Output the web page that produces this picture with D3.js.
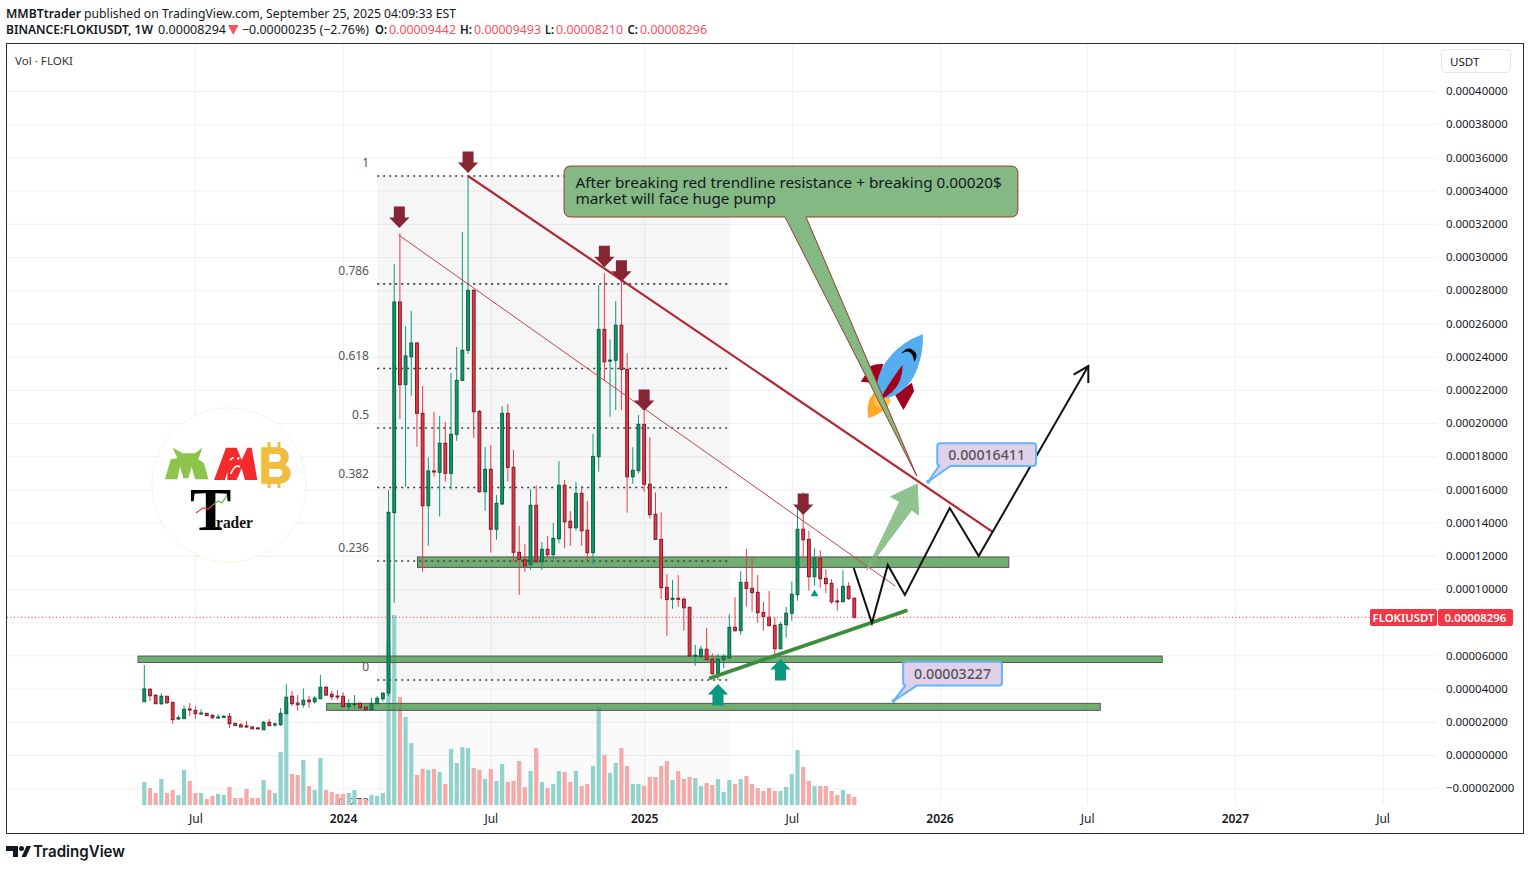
<!DOCTYPE html>
<html><head><meta charset="utf-8">
<style>
html,body{margin:0;padding:0;background:#fff}
svg{display:block}
svg text{font-family:"Noto Sans",sans-serif}
</style>
<script src="https://cdn.jsdelivr.net/npm/d3@7"></script>
</head><body>
<svg id="c" width="1530" height="870"></svg>
<script>
// prices are in units of 0.000001 USDT; one entry per weekly bar
const opens=[32.1,39.6,36.0,30.9,35.4,31.7,21.7,21.9,27.7,26.9,24.9,25.1,23.9,22.5,22.9,23.3,19.1,18.1,17.5,16.9,16.3,15.2,19.7,18.3,18.3,24.9,35.4,31.3,30.3,33.1,32.1,33.9,40.8,36.6,35.5,35.4,29.1,30.3,31.1,28.9,27.3,30.9,33.9,37.3,146.0,272.9,223.1,239.9,248.2,205.8,150.2,171.1,170.3,187.8,169.7,193.2,225.7,243.8,279.9,207.0,158.6,172.1,136.0,151.2,205.8,173.3,122.1,117.6,114.9,150.4,116.4,123.9,120.7,130.3,162.5,140.8,136.9,157.6,135.4,121.9,179.7,256.4,237.3,237.8,258.9,232.3,167.6,171.3,199.2,163.1,145.0,129.9,101.0,94.0,94.4,93.8,89.0,59.5,59.2,63.7,57.7,49.0,57.4,58.6,76.9,74.9,104.0,100.4,98.0,85.9,83.0,78.1,64.0,78.5,85.4,96.6,136.0,129.9,107.4,118.5,106.4,103.4,92.8,92.3,101.6,94.42];
const highs=[54.2,40.2,36.6,37.2,35.5,31.9,23.9,29.9,31.3,29.3,27.5,25.1,24.5,24.7,24.1,25.3,19.1,19.3,20.5,17.5,16.9,20.5,21.7,19.7,28.3,42.8,38.6,36.1,40.2,35.5,35.5,48.2,41.6,38.6,39.2,37.8,33.7,36.1,31.7,28.9,34.3,35.5,37.8,159.6,295.8,314.3,258.4,267.5,248.8,222.3,179.5,206.6,204.2,200.6,230.1,245.8,315.1,348.8,280.7,207.8,185.5,186.7,156.6,210.2,211.4,183.7,138.0,127.1,160.1,162.5,128.3,131.9,139.8,176.9,165.7,147.0,164.5,162.0,153.0,193.4,283.1,290.2,250.4,273.5,285.5,242.0,185.4,204.8,207.2,191.4,158.3,146.2,109.0,105.4,108.4,95.0,89.0,66.3,65.7,76.5,61.3,60.8,60.8,84.8,95.2,110.7,124.1,118.5,108.4,92.2,98.8,83.0,80.1,89.2,104.4,150.6,158.3,134.9,124.5,123.3,112.0,106.0,100.4,111.3,104.0,94.93];
const lows=[32.1,32.5,30.9,30.1,30.7,18.7,21.1,21.9,23.5,21.7,24.1,23.7,21.7,21.7,22.3,16.3,17.7,16.9,16.3,15.8,15.8,15.2,17.7,16.9,17.5,24.9,29.5,26.7,28.5,28.5,30.9,33.9,35.5,33.1,33.1,28.5,27.1,27.9,27.9,27.3,27.3,30.9,32.1,35.5,91.7,202.4,161.6,216.4,185.7,110.4,126.1,167.6,143.6,164.6,159.8,189.3,225.7,241.6,191.1,158.0,147.2,121.9,129.7,150.6,164.6,116.4,96.6,110.4,111.6,115.8,111.6,118.9,117.9,127.5,124.5,126.1,135.1,126.1,117.5,115.2,170.7,225.9,203.8,207.8,207.8,146.0,163.4,169.5,158.6,142.4,129.9,94.0,71.9,88.1,89.3,74.9,59.6,53.8,59.2,57.4,48.4,45.2,52.4,57.8,74.3,72.3,89.3,86.3,79.7,74.9,77.9,59.8,64.0,70.7,80.9,93.0,119.1,99.0,102.0,100.8,97.4,91.1,86.9,92.3,93.4,82.10];
const closes=[39.8,35.7,30.9,35.4,31.5,21.3,22.5,27.5,27.3,24.9,25.3,23.7,22.5,22.9,23.3,18.9,17.7,16.9,17.0,15.8,15.8,19.7,17.7,18.7,25.1,34.8,30.9,30.3,33.0,32.1,34.3,40.8,36.1,35.1,35.1,29.1,30.7,30.9,28.5,27.3,30.9,34.2,37.2,146.2,272.9,223.1,240.4,248.2,205.8,150.2,171.1,170.5,187.8,169.7,193.2,225.7,243.8,279.9,206.8,158.6,172.1,136.0,151.6,205.8,173.3,122.1,117.9,114.0,150.4,116.4,123.9,120.7,130.5,162.5,140.5,136.9,157.6,135.1,121.9,179.9,256.4,236.9,237.9,258.9,232.3,167.6,171.5,199.2,163.1,144.8,129.9,100.8,93.6,94.4,94.0,88.7,59.6,60.1,63.7,57.4,49.0,57.7,59.2,76.9,74.9,104.0,100.4,97.8,85.7,83.3,77.9,64.0,78.7,85.4,96.8,136.0,129.7,107.4,118.5,106.2,103.2,92.3,92.2,101.6,94.2,82.96];
const volumes=[23,17,12,26,12,15,10,35,24,12,12,6,9,11,10,18,7,7,16,7,7,25,15,12,53,103,31,30,45,19,15,47,15,13,11,11,12,15,6,5,10,9,12,164,190,108,88,62,30,36,35,36,33,21,56,42,58,57,37,35,26,36,24,41,23,24,44,18,34,57,23,17,21,34,33,23,34,19,21,39,98,50,32,42,57,39,21,21,19,28,28,39,44,25,34,26,28,27,19,22,20,26,13,25,21,26,29,21,17,14,17,14,14,18,31,55,38,24,19,19,19,14,10,15,11,8];
const priceTicks=[400,380,360,340,320,300,280,260,240,220,200,180,160,140,120,100,80,60,40,20,0,-20];
const hiddenPriceLabel=80; // covered by the last-price tag
const timeTickBars=[9,35,61,88,114,140,166,192,218];
const timeTickLabels=["Jul","2024","Jul","2025","Jul","2026","Jul","2027","Jul"];
const fibLevels=[1,0.786,0.618,0.5,0.382,0.236,0];
const fibHigh=348.8, fibLow=45.2;
const zoneFrom=[48.1,-1.1,32.1], zoneTo=[152.2,179.2,168.3], zoneHigh=[119.3,59.6,31.1], zoneLow=[113.0,55.7,26.9];
const downArrowBars=[44.9,57,81,84,88,116], downArrowPrices=[317.5,350.6,293.8,285.1,207.2,144.6];
const upArrowBars=[101,112], upArrowPrices=[42.8,57.8];
const projBars=[124.9,128.1,130.9,133.9,141.8,146.9,166.2], projPrices=[112.6,79.5,114.5,96.4,148.8,119.9,234.3];
const gArrowBars=[127.2,133.0,131.4,136.1,136.3,135.1], gArrowPrices=[111.4,152.6,155.6,163.3,144.6,147.6];
const lastClose=82.96;

const svg=d3.select("#c");
const x=d3.scaleLinear().domain([0,125]).range([144.3,854.3]);
const y=d3.scaleLinear().domain([0,400]).range([755,91]);
const vy=d3.scaleLinear().domain([0,190]).range([805,615]);
const INK="#131722",GREEN="#089981",RED="#f23645";
const bars=d3.range(opens.length);
const up=i=>closes[i]>=opens[i];

const defs=svg.append("defs");
defs.append("clipPath").attr("id","pane").append("rect").attr("x",7).attr("y",44).attr("width",1430).attr("height",761);

// grid
const pane=svg.append("g").attr("clip-path","url(#pane)");
pane.append("g").selectAll("line").data(priceTicks).join("line")
 .attr("x1",7).attr("x2",1437).attr("y1",d=>y(d)+.5).attr("y2",d=>y(d)+.5).attr("stroke","#f0f1f4");
pane.append("g").selectAll("line").data(timeTickBars).join("line")
 .attr("x1",d=>Math.round(x(d))+.5).attr("x2",d=>Math.round(x(d))+.5).attr("y1",44).attr("y2",805).attr("stroke","#f0f1f4");

// fib shading
const sx0=x(41),sx1=x(103.1);
pane.append("rect").attr("x",sx0).attr("width",sx1-sx0).attr("y",y(fibLow)).attr("height",805-y(fibLow)).attr("fill","#000").attr("opacity",.018);
pane.append("rect").attr("x",sx0).attr("width",sx1-sx0).attr("y",y(fibHigh)).attr("height",y(fibLow)-y(fibHigh)).attr("fill","#000").attr("opacity",.036);

const fibY=l=>y(fibLow+(fibHigh-fibLow)*l);
pane.append("text").attr("x",369).attr("y",807).attr("text-anchor","end").attr("font-size",12).attr("fill","#555").text("-0.272");

// volume
pane.append("g").selectAll("rect").data(bars).join("rect")
 .attr("x",i=>x(i)-2.1).attr("width",4.2).attr("y",i=>vy(volumes[i])).attr("height",i=>805-vy(volumes[i]))
 .attr("fill",i=>up(i)?"#92d2cc":"#f7a9a7");

// zones
svg.append("g").selectAll("rect").data(zoneFrom).join("rect")
 .attr("x",(d,i)=>x(d)).attr("width",(d,i)=>x(zoneTo[i])-x(d))
 .attr("y",(d,i)=>y(zoneHigh[i])).attr("height",(d,i)=>y(zoneLow[i])-y(zoneHigh[i]))
 .attr("fill","#4e9a4f").attr("fill-opacity",.8).attr("stroke","#555").attr("stroke-width",1);

// fib lines and labels
svg.append("g").selectAll("line").data(fibLevels).join("line")
 .attr("x1",sx0).attr("x2",x(102.8)).attr("y1",fibY).attr("y2",fibY)
 .attr("stroke","#3a3e4a").attr("stroke-width",1.6).attr("stroke-dasharray","2 4");
svg.append("g").selectAll("text").data(fibLevels).join("text")
 .attr("x",369).attr("y",d=>fibY(d)-9).attr("text-anchor","end").attr("font-size",12).attr("fill","#555")
 .text(d=>String(d));

// candles
const cg=svg.append("g");
cg.selectAll("line").data(bars).join("line")
 .attr("x1",i=>x(i)).attr("x2",i=>x(i)).attr("y1",i=>y(highs[i])).attr("y2",i=>y(lows[i]))
 .attr("stroke",i=>up(i)?GREEN:RED).attr("stroke-width",1);
cg.selectAll("rect").data(bars).join("rect")
 .attr("x",i=>x(i)-1.4).attr("width",2.8)
 .attr("y",i=>y(Math.max(opens[i],closes[i])))
 .attr("height",i=>Math.max(1,Math.abs(y(opens[i])-y(closes[i]))))
 .attr("fill",i=>up(i)?GREEN:RED)
 .attr("stroke",i=>up(i)?"#0f5f2e":"#7a1a28").attr("stroke-width",1);

// last price line
svg.append("line").attr("x1",7).attr("x2",1370).attr("y1",y(lastClose)).attr("y2",y(lastClose))
 .attr("stroke",RED).attr("stroke-dasharray","1 2.5");

// rocket
const rocket=svg.append("g").attr("transform",`translate(${x(122.5)},${y(256)}) scale(${1/3})`);
rocket.append("path").attr("fill","#ffa928").attr("d","M85 265Q75 220 100 190L152 210Q135 250 85 265Z");
rocket.append("circle").attr("cx",125).attr("cy",212).attr("r",24).attr("fill","#ffc24d");
rocket.append("path").attr("fill","#a0001e").attr("d","M62 155L92 108Q110 100 130 102L112 160Z");
rocket.append("path").attr("fill","#a0001e").attr("d","M165 195L215 158L222 183L190 240Z");
rocket.append("path").attr("fill","#56aef0").attr("d","M248 13C185 35 130 85 113 150C108 175 115 195 127 205C170 205 215 165 232 115C245 80 250 45 248 13Z");
rocket.append("path").attr("fill","#a0001e").attr("d","M188 105Q165 130 118 210Q165 190 180 150Q187 130 188 105Z");
rocket.append("path").attr("fill","#000").attr("d","M183 72Q205 40 228 70Q232 85 222 95Q220 70 205 65Q195 62 183 72Z");

// trendlines
svg.append("line").attr("x1",x(57)).attr("y1",y(348.8)).attr("x2",x(149.4)).attr("y2",y(134.3)).attr("stroke","#b22833").attr("stroke-width",2.2);
svg.append("line").attr("x1",x(44.8)).attr("y1",y(313.2)).attr("x2",x(132.2)).attr("y2",y(101.8)).attr("stroke","#c0434d").attr("stroke-width",1);
svg.append("line").attr("x1",x(99.7)).attr("y1",y(46.4)).attr("x2",x(134.1)).attr("y2",y(86.9)).attr("stroke","#3b8e3b").attr("stroke-width",3.8).attr("stroke-linecap","round");

// projection path with arrow head
const projPts=projBars.map((b,i)=>[x(b),y(projPrices[i])]);
svg.append("path").attr("d",d3.line()(projPts)).attr("fill","none").attr("stroke","#111").attr("stroke-width",2);
{const [a,b]=projPts.slice(-2),ang=Math.atan2(b[1]-a[1],b[0]-a[0]),L=17,w=Math.PI/6;
 svg.append("path").attr("fill","none").attr("stroke","#111").attr("stroke-width",2)
 .attr("d",d3.line()([[b[0]-L*Math.cos(ang-w),b[1]-L*Math.sin(ang-w)],b,[b[0]-L*Math.cos(ang+w),b[1]-L*Math.sin(ang+w)]]));}

// translucent green arrow
svg.append("path").attr("d",d3.line()(gArrowBars.map((b,i)=>[x(b),y(gArrowPrices[i])]))+"Z")
 .attr("fill","#5da65d").attr("fill-opacity",.68).attr("stroke","#8cc08c").attr("stroke-width",1);

// red and green block arrows
function blockArrow(tx,ty,dir){
 const d=[[0,0],[10.2,dir*-10.5],[5.5,dir*-10.5],[5.5,dir*-21.5],[-5.5,dir*-21.5],[-5.5,dir*-10.5],[-10.2,dir*-10.5]].map(p=>[tx+p[0],ty+p[1]]);
 return d3.line()(d)+"Z";
}
svg.append("g").selectAll("path").data(downArrowBars).join("path").attr("fill","#862633")
 .attr("d",(d,i)=>blockArrow(x(d),y(downArrowPrices[i]),1));
svg.append("g").selectAll("path").data(upArrowBars).join("path").attr("fill",GREEN)
 .attr("d",(d,i)=>blockArrow(x(d),y(upArrowPrices[i]),-1));
svg.append("path").attr("fill",GREEN).attr("d",d3.symbol(d3.symbolTriangle,26)()).attr("transform",`translate(${x(118)},${y(97)})`);

// callouts
function callout(x0,y0,x1,y1,r,bx0,bx1,tx,ty){
 return `M${x0+r} ${y0}H${x1-r}Q${x1} ${y0} ${x1} ${y0+r}V${y1-r}Q${x1} ${y1} ${x1-r} ${y1}H${bx1}L${tx} ${ty}L${bx0} ${y1}H${x0+r}Q${x0} ${y1} ${x0} ${y1-r}V${y0+r}Q${x0} ${y0} ${x0+r} ${y0}Z`;
}
svg.append("path").attr("d",callout(x(73.9),y(354.8),x(153.8),y(324.1),7,x(112.8),x(116.5),x(136),y(168.1)))
 .attr("fill","#84b984").attr("stroke","#9a3b2c").attr("stroke-width",1);
const tx=x(75.9);
svg.append("text").attr("x",tx).attr("y",y(354.8)+21.5).attr("font-size",15.3).attr("fill",INK).text("After breaking red trendline resistance + breaking 0.00020$");
svg.append("text").attr("x",tx).attr("y",y(354.8)+37.5).attr("font-size",15.3).attr("fill",INK).text("market will face huge pump");

function priceNote(b0,b1,pTop,pBot,bt0,bt1,tb,tp,label){
 svg.append("path").attr("d",callout(x(b0),y(pTop),x(b1),y(pBot),3,x(bt0),x(bt1),x(tb),y(tp)))
  .attr("fill","#e1d0ea").attr("stroke","#64b5f6").attr("stroke-width",2);
 svg.append("circle").attr("cx",x(tb)).attr("cy",y(tp)).attr("r",2).attr("fill","#64b5f6");
 svg.append("text").attr("x",(x(b0)+x(b1))/2).attr("y",(y(pTop)+y(pBot))/2+5).attr("text-anchor","middle").attr("font-size",14.2).attr("font-weight",500).attr("fill","#555").text(label);
}
priceNote(139.6,157,187.8,174.1,139.9,141.9,138,164.6,"0.00016411");
priceNote(133.6,151,56.2,41.8,134,136,131.9,32.6,"0.00003227");

// logo
const lg=svg.append("g");
lg.append("circle").attr("cx",229).attr("cy",485).attr("r",77).attr("fill","#fff").attr("stroke","#efe6bf").attr("stroke-dasharray","1 1");
const logoGlyph=lg.append("g").attr("transform","translate(140,400) scale(.3333)");
logoGlyph.append("path").attr("fill","#8cc44c").attr("d","M75 238L92 178L112 175L98 143L128 160L165 160L187 143L175 178L192 190L205 238L165 238L155 200L145 235L130 235L120 200L112 238Z");
logoGlyph.append("path").attr("fill","#f52a2a").attr("d","M222 240L258 143L290 143L305 180L322 143L335 143L352 240L315 240L305 205L290 240L262 240L262 215L255 240Z");
logoGlyph.append("path").attr("fill","none").attr("stroke","#fff").attr("stroke-width",5).attr("d","M270 180l10 -8M292 178l6 -6M272 222q12 -30 28 -22");
const B=lg.append("text").attr("x",259).attr("y",483).attr("font-size",50).attr("font-weight",700).attr("fill","#f0bd3f").attr("stroke","#f0bd3f").attr("stroke-width",1.5).attr("textLength",33).attr("lengthAdjust","spacingAndGlyphs").text("B");
B.style("font-family","Liberation Sans");
lg.append("path").attr("d","M269 442v6M279 442v6M269 482v6M279 482v6").attr("stroke","#f0bd3f").attr("stroke-width",3);
lg.append("text").attr("x",190).attr("y",530).attr("font-size",62).attr("font-weight",700).attr("fill","#000").style("font-family","Liberation Serif").text("T");
lg.append("text").attr("x",216).attr("y",528).attr("font-size",17).attr("font-weight",700).attr("fill","#111").attr("textLength",37).attr("lengthAdjust","spacingAndGlyphs").style("font-family","Liberation Serif").text("rader");
lg.append("path").attr("fill","none").attr("stroke","#e8433a").attr("stroke-width",1.2).attr("d","M196 513L203 508L208 509L213 505");
lg.append("path").attr("fill","none").attr("stroke","#6fb43f").attr("stroke-width",1.2).attr("d","M213 505L218 501L222 503L227 495");

// axes
const rightAxis=svg.append("g").attr("transform","translate(1440,0)").call(d3.axisRight(y).tickValues(priceTicks.filter(d=>d!==hiddenPriceLabel)).tickSize(0).tickPadding(6)
 .tickFormat(d=>(d<0?"−":"")+(Math.abs(d)*1e-6).toFixed(8)));
rightAxis.select(".domain").remove();
rightAxis.selectAll("text").attr("font-size",11.4).attr("fill",INK).style("font-family",'"Noto Sans"');
const bottomAxis=svg.append("g").attr("transform","translate(0,805)").call(d3.axisBottom(x).tickValues(timeTickBars).tickSize(0).tickPadding(9)
 .tickFormat((d,i)=>timeTickLabels[i]));
bottomAxis.select(".domain").remove();
bottomAxis.selectAll("text").attr("font-size",12).attr("fill",INK).attr("font-weight",(d,i)=>/^\d/.test(timeTickLabels[i])?600:400).style("font-family",'"Noto Sans"');

// frame
svg.append("rect").attr("x",6.5).attr("y",43.5).attr("width",1517).attr("height",790).attr("fill","none").attr("stroke","#2a2e39").attr("stroke-width",1);

// last price tags
svg.append("rect").attr("x",1370).attr("y",609).attr("width",67).attr("height",17).attr("rx",2).attr("fill",RED);
svg.append("rect").attr("x",1438).attr("y",609).attr("width",75).attr("height",17).attr("rx",2).attr("fill",RED);
svg.append("text").attr("x",1403.5).attr("y",621.5).attr("text-anchor","middle").attr("font-size",11.4).attr("font-weight",600).attr("fill","#fff").text("FLOKIUSDT");
svg.append("text").attr("x",1475.5).attr("y",621.5).attr("text-anchor","middle").attr("font-size",11.4).attr("font-weight",600).attr("fill","#fff").text("0.00008296");

// scale button and pane title
svg.append("rect").attr("x",1441.5).attr("y",49.5).attr("width",69).attr("height",23).attr("rx",4).attr("fill","#fff").attr("stroke","#e6e8ee");
svg.append("text").attr("x",1450).attr("y",65.5).attr("font-size",11.6).attr("fill",INK).text("USDT");
svg.append("text").attr("x",15).attr("y",64.5).attr("font-size",11.6).attr("fill","#333").text("Vol · FLOKI");

// header
function head(tx,tw,ty,str,w,col){
 svg.append("text").attr("x",tx).attr("y",ty).attr("font-size",12.5).attr("font-weight",w||400).attr("fill",col||INK)
  .attr("textLength",tw).attr("lengthAdjust","spacingAndGlyphs").text(str);
}
head(6,75,17.5,"MMBTtrader",600);
head(84,372,17.5,"published on TradingView.com, September 25, 2025 04:09:33 EST");
head(6,147,34,"BINANCE:FLOKIUSDT, 1W",600);
head(158,68,34,"0.00008294");
svg.append("path").attr("fill","#f7525f").attr("d","M228 25H238.5L233.2 35Z");
head(242,127,34,"−0.00000235 (−2.76%)");
const NUM="#f7525f";
[[375,"O:",389,"0.00009442"],[460,"H:",474,"0.00009493"],[545,"L:",556,"0.00008210"],[627.5,"C:",640,"0.00008296"]].forEach(r=>{
 head(r[0],r[2]-r[0]-2,34,r[1],600);head(r[2],67,34,r[3],400,NUM);
});

// TradingView mark
svg.append("path").attr("fill",INK).attr("d","M6 846H18V857H13V851H6ZM26.5 846H31L26 857H21.5Z");
svg.append("circle").attr("cx",21.5).attr("cy",848.5).attr("r",2.5).attr("fill",INK);
svg.append("text").attr("x",33).attr("y",857).style("font-family","Inter").attr("font-size",16).attr("font-weight",600).attr("fill",INK).attr("textLength",92).attr("lengthAdjust","spacingAndGlyphs").text("TradingView");
</script>
</body></html>
